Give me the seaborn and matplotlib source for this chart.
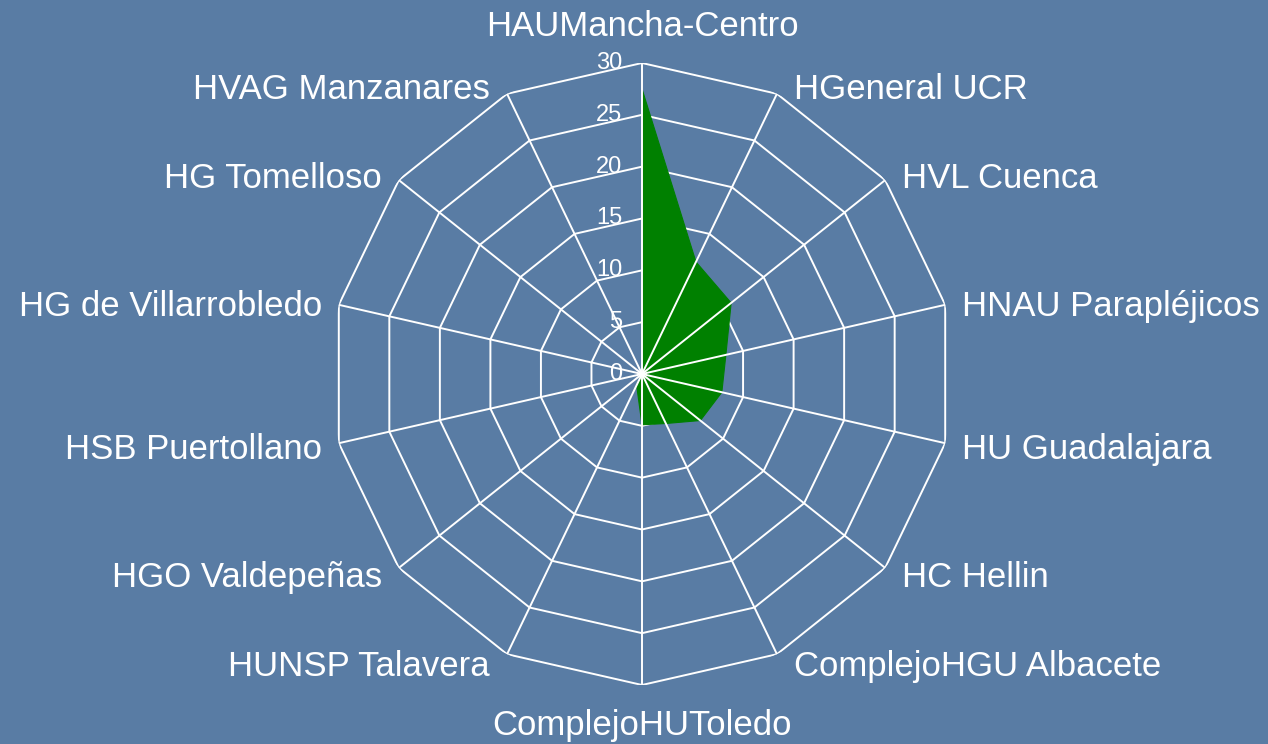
import numpy as np
import pandas as pd
import matplotlib
matplotlib.use("Agg")
import matplotlib.pyplot as plt
import seaborn as sns

categories = [
    "HAUMancha-Centro", "HGeneral UCR", "HVL Cuenca", "HNAU Parapléjicos",
    "HU Guadalajara", "HC Hellin", "ComplejoHGU Albacete", "ComplejoHUToledo",
    "HUNSP Talavera", "HGO Valdepeñas", "HSB Puertollano", "HG de Villarrobledo",
    "HG Tomelloso", "HVAG Manzanares",
]
values = [27.5, 12.0, 11.0, 8.3, 7.9, 7.2, 5.3, 4.9, 1.2, 0, 0, 0, 0, 0]
ring_ticks = [0, 5, 10, 15, 20, 25, 30]

BG = "#597ca4"
FILL = "#008000"

sns.set_style("white")
plt.rcParams["font.family"] = ["Liberation Sans", "DejaVu Sans"]

W, H = 1268, 744
fig = plt.figure(figsize=(W / 100, H / 100), dpi=100, facecolor=BG)
cx, cy, R = 642, 374, 311
ax = fig.add_axes([(cx - R) / W, (H - cy - R) / H, 2 * R / W, 2 * R / H],
                  projection="polar")
ax.set_facecolor("none")
ax.set_theta_zero_location("N")
ax.set_theta_direction(-1)
ax.set_ylim(0, ring_ticks[-1])
ax.set_axis_off()

n = len(categories)
theta = np.arange(n) * 2 * np.pi / n
theta_closed = np.append(theta, theta[0])

# polygon rings
for r in ring_ticks[1:]:
    ax.plot(theta_closed, [r] * (n + 1), color="white", lw=1.4, zorder=1)

# data fill
df = pd.DataFrame({"theta": theta_closed, "value": values + [values[0]]})
ax.fill(df["theta"], df["value"], color=FILL, lw=0, zorder=2)
sns.lineplot(data=df, x="theta", y="value", sort=False, color=FILL, lw=0.8,
             ax=ax, zorder=2, legend=False)
ax.set_axis_off()

# spokes
for t in theta:
    ax.plot([t, t], [0, ring_ticks[-1]], color="white", lw=1.4, zorder=3)

# radial tick labels
for v in ring_ticks:
    ax.annotate(str(v), xy=(0, v), xytext=(-14.4, 0), textcoords="offset points",
                ha="right", va="center", color="white", fontsize=17, zorder=4)

# category labels
for t, lab in zip(theta, categories):
    s, c = np.sin(t), np.cos(t)
    if abs(s) < 1e-6:
        dx = 0
        dy = 36 if c > 0 else -40
        ha = "center"
    else:
        dx = 17 * np.sign(s)
        dy = 9 * c - 4
        ha = "left" if s > 0 else "right"
    ax.annotate(lab, xy=(t, ring_ticks[-1]), xytext=(dx * 0.72, dy * 0.72),
                textcoords="offset points", ha=ha, va="center",
                color="white", fontsize=25, annotation_clip=False)

fig.savefig("out.png", dpi=100, facecolor=BG)
